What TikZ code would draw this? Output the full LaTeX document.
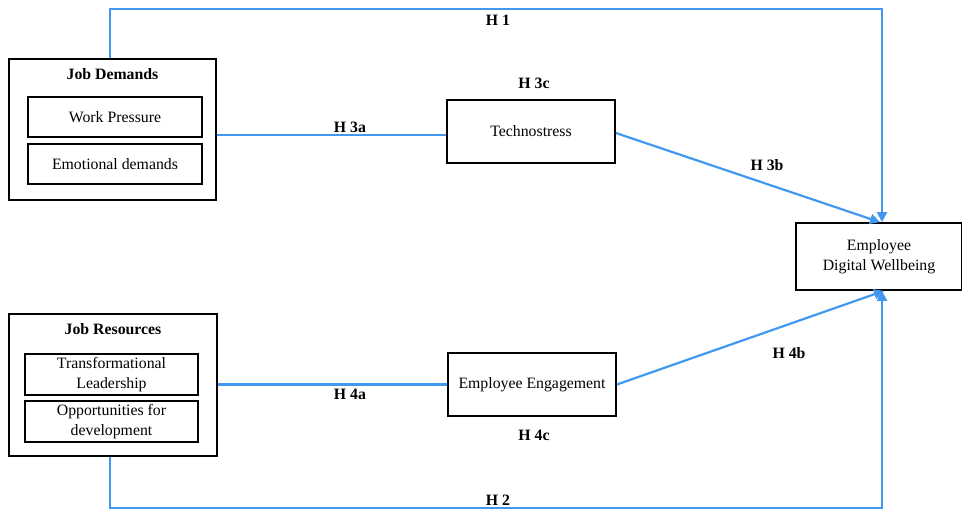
\documentclass[tikz,border=0pt]{standalone}
\usepackage{fontspec}
\setmainfont{Liberation Serif}
\usepackage{tikz}
\usetikzlibrary{calc,positioning,arrows.meta}
\definecolor{hypblue}{RGB}{66,152,240}
\tikzset{
  inbox/.style={rectangle,draw=black,line width=1.7pt,inner sep=1pt,align=center,font=\fontsize{15.8}{19.5}\selectfont},
  grp/.style={rectangle,draw=black,line width=1.7pt,inner sep=0pt},
  grptitle/.style={font=\fontsize{15.8}{19.5}\selectfont\bfseries,inner sep=0pt},
  hyp/.style={font=\fontsize{15.8}{19.5}\selectfont\bfseries,inner sep=0pt},
  % plain path and the one ending in the wellbeing box
  link/.style={line width=2.2pt,hypblue},
  linkarr/.style={link,-{Triangle[length=10pt,width=10pt]}},
}
\begin{document}
\begin{tikzpicture}[x=1pt,y=-1pt]
  \useasboundingbox (0,0) rectangle (962,509);
  \coordinate (topc) at (0,9);   \coordinate (botc) at (0,508);
  % groups
  \node[grp,minimum width=207,minimum height=141] (jd) at (112.5,129.5){};
  \node[grptitle] (jdt) at (112.5,74){Job Demands};
  \node[inbox,minimum width=174,minimum height=40] (wp) at (115,117){Work Pressure};
  \node[inbox,minimum width=174,minimum height=40] (emo) at (115,164){Emotional demands};
  \node[grp,minimum width=208,minimum height=142] (jr) at (113,385){};
  \node[grptitle] (jrt) at (113,329){Job Resources};
  \node[inbox,minimum width=173,minimum height=41] (tl) at (111.5,374.5){Transformational\\Leadership};
  \node[inbox,minimum width=173,minimum height=41] (opp) at (111.5,421.5){Opportunities for\\development};
  % mediators and outcome
  \node[inbox,minimum width=168,minimum height=63] (tech) at (531,131.5){Technostress};
  \node[inbox,minimum width=168,minimum height=63] (eng) at (532,384.5){Employee Engagement};
  \node[inbox,minimum width=166,minimum height=67] (ew) at (879,256.5){Employee\\Digital Wellbeing};
  % paths
  \draw[linkarr] ([xshift=-2.5]jd.north) -- ([xshift=-2.5]jd.north |- topc) -- ([xshift=3]ew.north |- topc) -- ([xshift=3]ew.north);
  \draw[link] ([yshift=-3.5]jd.east |- tech.west) -- ([yshift=-3.5]tech.west);
  \draw[linkarr] ([yshift=-1.5]tech.east) -- ([xshift=1]ew.north);
  \draw[link] (jr.east |- eng.west) -- (eng.west);
  \draw[linkarr] (eng.east) -- ([xshift=5]ew.south);
  \draw[linkarr] ([xshift=-3]jr.south) -- ([xshift=-3]jr.south |- botc) -- ([xshift=3]ew.south |- botc) -- ([xshift=3]ew.south);
  % labels
  \node[hyp] (h1) at (498,20){H 1};
  \node[hyp] (h3c) at (534,83){H 3c};
  \node[hyp] (h3a) at (350,127){H 3a};
  \node[hyp] (h3b) at (767,165){H 3b};
  \node[hyp] (h4b) at (789,353){H 4b};
  \node[hyp] (h4a) at (350,394){H 4a};
  \node[hyp] (h4c) at (534,435){H 4c};
  \node[hyp] (h2) at (498,500){H 2};
\end{tikzpicture}
\end{document}
